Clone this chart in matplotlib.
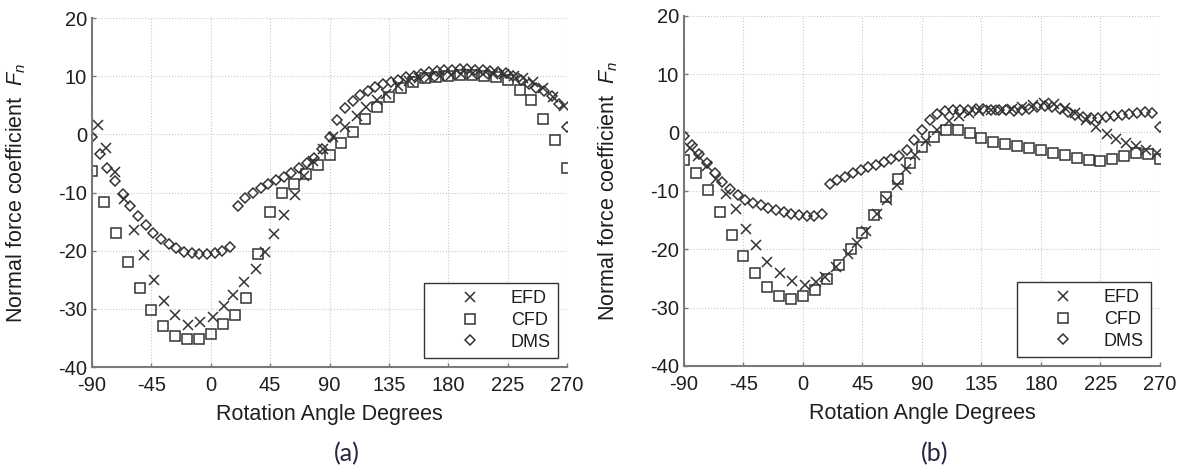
'''Normal force coefficient vs rotation angle: EFD, CFD and DMS, two cases (a) and (b).'''

import numpy as np
import matplotlib
matplotlib.use("Agg")
import matplotlib.pyplot as plt

plt.rcParams['font.family'] = ['Liberation Sans', 'DejaVu Sans']
plt.rcParams['axes.unicode_minus'] = False
plt.rcParams['mathtext.fontset'] = 'custom'
plt.rcParams['mathtext.it'] = 'Liberation Sans:italic'
plt.rcParams['mathtext.rm'] = 'Liberation Sans'

# Angles (degrees)
efd_angle = [-85.7, -79.6, -72.6, -65.5, -58, -50.4, -42.8, -35.2, -27.1, -17.3,
             -8.2, 1.9, 10, 17, 25.2, 34.2, 41, 47.9, 55.7, 63.8,
             71, 77.7, 85, 92.8, 101.7, 110.5, 118, 125.7, 133, 142,
             150, 158, 166, 174, 182, 190, 198, 206, 214, 222,
             230, 237, 244, 252, 259.5, 268]
cfd_angle = np.arange(-90, 271, 9)
dms_angle = np.linspace(-90, 270, 63)

# (a)
efd_a = [1.6, -2.4, -6.5, -11.2, -16.4, -20.8, -25.0, -28.6, -31.1, -32.7,
         -32.3, -31.4, -29.5, -27.6, -25.4, -23.1, -20.3, -17.2, -13.9, -10.4,
         -7.2, -4.6, -2.5, -0.5, 1.3, 3.2, 4.7, 5.9, 7.0, 8.3,
         9.1, 9.6, 9.9, 10.1, 10.2, 10.3, 10.4, 10.4, 10.4, 10.3,
         10.0, 9.6, 9.0, 7.9, 6.5, 4.9]
cfd_a = [-6.3, -11.6, -16.9, -21.9, -26.5, -30.2, -32.9, -34.7, -35.2, -35.1,
         -34.3, -32.6, -31.0, -28.2, -20.5, -13.3, -10.1, -8.5, -6.8, -5.3,
         -3.6, -1.5, 0.4, 2.7, 4.7, 6.5, 7.9, 9.0, 9.6, 9.9,
         10.1, 10.2, 10.2, 10.1, 9.9, 9.3, 7.7, 5.9, 2.7, -1.0,
         -5.8]
dms_a = [-0.5, -3.4, -5.8, -8.1, -10.3, -12.3, -14.0, -15.5, -16.9, -18.0,
         -18.8, -19.6, -20.2, -20.4, -20.6, -20.6, -20.4, -20.0, -19.3,
         -12.3, -11.0, -10.1, -9.3, -8.5, -7.9, -7.3, -6.6, -5.8, -5.0, -4.1,
         -2.5, -0.5, 2.5, 4.5, 5.7, 6.7, 7.5, 8.1, 8.6, 9.0,
         9.4, 9.8, 10.1, 10.4, 10.7, 10.9, 11.0, 11.1, 11.2, 11.2,
         11.1, 11.0, 10.9, 10.8, 10.5, 10.0, 9.4, 8.7, 8.0, 7.4,
         6.6, 5.3, 1.2]

# (b)
efd_b = [-2.7, -4.0, -5.8, -8.0, -10.5, -13.1, -16.5, -19.2, -22.2, -24.0,
         -25.4, -26.2, -25.6, -24.7, -23.0, -20.8, -19.0, -16.8, -14.0, -11.5,
         -9.0, -6.3, -3.8, -1.5, 0.5, 2.0, 2.8, 3.3, 3.6, 3.8,
         3.9, 4.0, 4.3, 4.7, 5.0, 4.8, 4.2, 3.3, 2.2, 1.0,
         -0.3, -1.2, -1.8, -2.4, -3.0, -3.6]
cfd_b = [-4.7, -7.0, -9.9, -13.6, -17.5, -21.1, -24.1, -26.4, -28.0, -28.5,
         -28.0, -26.9, -25.1, -22.7, -19.9, -17.2, -14.2, -11.0, -8.0, -5.2,
         -2.5, -0.8, 0.4, 0.5, -0.1, -0.9, -1.6, -1.9, -2.3, -2.7,
         -3.0, -3.5, -3.9, -4.3, -4.7, -4.9, -4.5, -4.1, -3.5, -3.7,
         -4.6]
dms_b = [-0.6, -2.2, -3.7, -5.3, -6.9, -8.5, -9.6, -10.7, -11.5, -12.1,
         -12.4, -12.9, -13.3, -13.6, -13.9, -14.2, -14.3, -14.3, -13.9,
         -8.9, -8.2, -7.6, -7.0, -6.5, -6.0, -5.6, -5.1, -4.6, -4.1, -3.0,
         -1.3, 0.5, 2.1, 3.1, 3.6, 3.8, 3.8, 3.9, 4.0, 4.0,
         3.9, 3.8, 3.8, 3.7, 3.8, 4.0, 4.3, 4.6, 4.4, 4.0,
         3.5, 3.0, 2.7, 2.5, 2.5, 2.6, 2.8, 3.0, 3.2, 3.4,
         3.5, 3.4, 1.0]

xticks = [-90, -45, 0, 45, 90, 135, 180, 225, 270]
yticks = [-40, -30, -20, -10, 0, 10, 20]

MK = '#333333'
AX = '#7a7a7a'
TXT = '#1e1e1e'

fig = plt.figure(figsize=(11.86, 4.70), dpi=100)
ax_a = fig.add_axes([0.0776, 0.2191, 0.4005, 0.7426])
ax_b = fig.add_axes([0.5767, 0.2213, 0.4013, 0.7453])

panels = [(ax_a, efd_a, cfd_a, dms_a, '(a)', 0.2926),
          (ax_b, efd_b, cfd_b, dms_b, '(b)', 0.7884)]

for ax, efd, cfd, dms, tag, tx in panels:
    ax.plot(efd_angle, efd, linestyle='none', marker='x', ms=6.5, mew=1.1,
            color=MK, label='EFD')
    ax.plot(cfd_angle, cfd, linestyle='none', marker='s', ms=7.2, mew=1.1,
            mfc='none', color=MK, label='CFD')
    ax.plot(dms_angle, dms, linestyle='none', marker='D', ms=5.2, mew=1.1,
            mfc='none', color=MK, label='DMS')

    ax.set_xlim(-90, 270)
    ax.set_ylim(-40, 20)
    ax.set_xticks(xticks)
    ax.set_yticks(yticks)
    ax.grid(True, linestyle=':', color='#c8c8c8', linewidth=0.8)
    ax.set_axisbelow(True)
    for side in ['top', 'right']:
        ax.spines[side].set_visible(False)
    for side in ['left', 'bottom']:
        ax.spines[side].set_color(AX)
        ax.spines[side].set_linewidth(1.5)
    ax.tick_params(direction='in', length=3, width=1, color=AX,
                   labelsize=14.5, labelcolor=TXT)
    ax.tick_params(axis='x', pad=6.5)
    ax.tick_params(axis='y', pad=3.5)

    ax.set_xlabel('Rotation Angle Degrees', fontsize=15.5, color=TXT)
    ax.set_ylabel('Normal force coefficient  $\\mathit{F}_{\\mathit{n}}$',
                  fontsize=15.5, color=TXT)
    ax.xaxis.set_label_coords(0.5, -0.107)
    ax.yaxis.set_label_coords(-0.135, 0.5)

    leg = ax.legend(loc='lower right', fontsize=13, handlelength=4.3,
                    handletextpad=0.12, labelspacing=0.27, borderaxespad=0.5,
                    fancybox=False, framealpha=1, edgecolor='#333333')
    leg.get_frame().set_linewidth(1.0)
    for t in leg.get_texts():
        t.set_color(TXT)

    fig.text(tx, 0.034, tag, ha='center', va='center', fontsize=18,
             family=['Lato', 'DejaVu Sans'], color='#262640')

fig.savefig('out.png', dpi=100)
